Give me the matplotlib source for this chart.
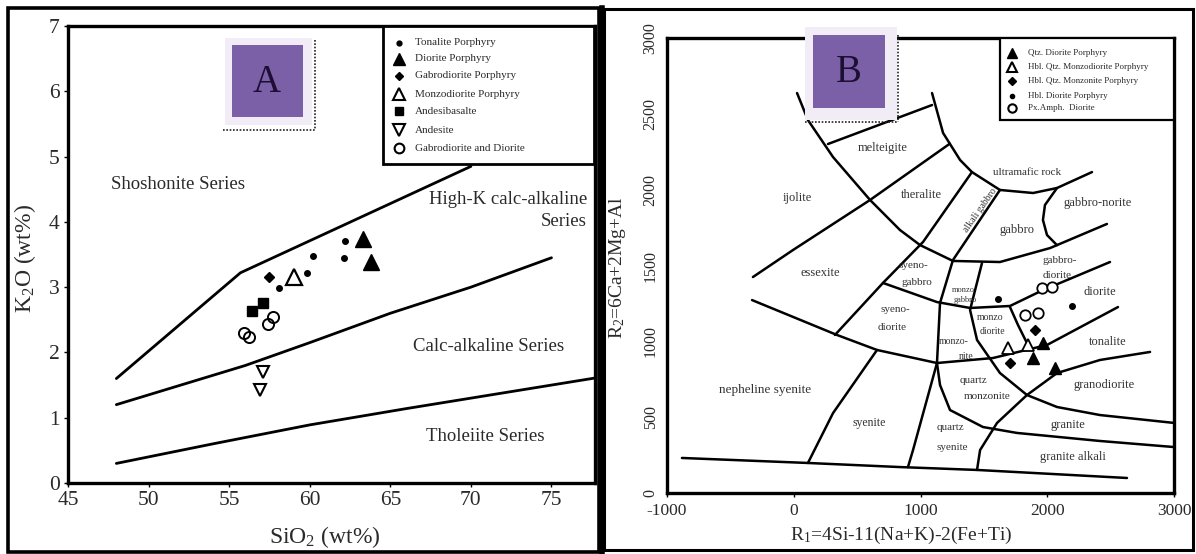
import matplotlib
matplotlib.use('Agg')
import matplotlib.pyplot as plt
from matplotlib.patches import Rectangle
from matplotlib.lines import Line2D

plt.rcParams['font.family'] = ['Liberation Serif', 'DejaVu Serif']
plt.rcParams['mathtext.fontset'] = 'custom'
plt.rcParams['mathtext.rm'] = 'Liberation Serif'
plt.rcParams['mathtext.it'] = 'Liberation Serif:italic'
plt.rcParams['axes.unicode_minus'] = False

W, H = 1196, 554
TXT = '#2a2a2a'

# ---------------- Panel A data (SiO2 vs K2O) ----------------
shosh_x = [48, 55.7, 70]
shosh_y = [1.6, 3.22, 4.85]
highk_x = [48, 52, 56, 60, 65, 70, 75]
highk_y = [1.2, 1.5, 1.8, 2.15, 2.6, 3.0, 3.45]
thol_x = [48, 54, 60, 66, 72, 78]
thol_y = [0.3, 0.6, 0.89, 1.14, 1.38, 1.62]

tonalite_x = [62.2, 62.1, 60.2, 59.8, 58.1]
tonalite_y = [3.71, 3.44, 3.47, 3.22, 2.99]
diorite_x = [63.3, 63.8]
diorite_y = [3.74, 3.39]
gabrodior_x = [57.5]
gabrodior_y = [3.16]
monzodior_x = [59.0]
monzodior_y = [3.16]
andesibas_x = [57.1, 56.4]
andesibas_y = [2.76, 2.64]
andesite_x = [57.1, 56.9]
andesite_y = [1.70, 1.43]
gabdior_x = [57.4, 57.7, 55.9, 56.2]
gabdior_y = [2.44, 2.55, 2.30, 2.24]

legendA = ['Tonalite Porphyry', 'Diorite Porphyry', 'Gabrodiorite Porphyry',
           'Monzodiorite Porphyry', 'Andesibasalte', 'Andesite',
           'Gabrodiorite and Diorite']

fieldsA = ['Shoshonite Series', 'High-K calc-alkaline', 'Series',
           'Calc-alkaline Series', 'Tholeiite Series']
fieldsA_x = [51.8, 77.2, 77.2, 71.1, 70.9]
fieldsA_y = [4.57, 4.34, 4.0, 2.09, 0.71]
fieldsA_ha = ['center', 'right', 'right', 'center', 'center']

# ---------------- Panel B data (R1 vs R2) ----------------
C1_x = [26, 112, 310, 602, 838, 996, 1256, 1627, 2022, 2471]
C1_y = [2637, 2459, 2215, 1932, 1734, 1635, 1530, 1523, 1615, 1774]
M_x = [270, 1091]
M_y = [2301, 2558]
C2_x = [1091, 1178, 1312, 1406, 1627, 1888, 2077, 2353]
C2_y = [2637, 2374, 2196, 2116, 1998, 1978, 2011, 2116]
L3_x = [-322, -6, 602, 1231]
L3_y = [1424, 1602, 1932, 2303]
L4_x = [-329, 341, 657, 1130, 1572, 1998, 2558]
L4_y = [1272, 1042, 943, 857, 890, 976, 1226]
GN_x = [2077, 1982, 1966, 1998, 2077]
GN_y = [2011, 1899, 1800, 1701, 1634]
B_x = [325, 704, 1020, 1406]
B_y = [1042, 1385, 1655, 2116]
A_x = [1627, 1256, 1154, 1130, 941, 901]
A_y = [1998, 1536, 1253, 857, 283, 171]
L9_x = [704, 1130, 1391, 1706, 1966, 2156, 2495]
L9_y = [1385, 1259, 1220, 1233, 1338, 1404, 1523]
L10_x = [1706, 1769, 1864]
L10_y = [1226, 1108, 948]
A3_x = [1485, 1391, 1446, 1627, 1840, 2077, 2416, 3000]
A3_y = [1516, 1207, 1009, 791, 646, 567, 514, 462]
L5_x = [1446, 1470, 1604, 1840, 2077, 2416, 2811]
L5_y = [152, 283, 462, 646, 791, 877, 930]
A4_x = [1130, 1154, 1233, 1493, 1761, 2416, 3000]
A4_y = [857, 712, 547, 435, 396, 343, 303]
SY_x = [657, 310, 112]
SY_y = [943, 527, 198]
BL_x = [-882, 112, 838, 1446, 2629]
BL_y = [231, 198, 171, 152, 99]
linesB = [(C1_x, C1_y), (M_x, M_y), (C2_x, C2_y), (L3_x, L3_y), (L4_x, L4_y),
          (GN_x, GN_y), (B_x, B_y), (A_x, A_y), (L9_x, L9_y), (L10_x, L10_y),
          (A3_x, A3_y), (L5_x, L5_y), (A4_x, A4_y), (SY_x, SY_y), (BL_x, BL_y)]

qtzdior_x = [1967, 1888, 2061]
qtzdior_y = [989, 890, 824]
hblmzd_x = [1690, 1848]
hblmzd_y = [956, 976]
hblmzn_x = [1904, 1706]
hblmzn_y = [1075, 857]
hbldior_x = [1612, 2195]
hbldior_y = [1279, 1233]
pxamph_x = [1959, 2038, 1825, 1927]
pxamph_y = [1352, 1358, 1174, 1187]

legendB = ['Qtz. Diorite Porphyry', 'Hbl. Qtz. Monzodiorite Porphyry',
           'Hbl. Qtz. Monzonite Porphyry', 'Hbl. Diorite Porphyry',
           'Px.Amph.  Diorite']

fieldsB = ['melteigite', 'ijolite', 'theralite', 'alkali gabbro', 'ultramafic rock',
           'gabbro-norite', 'gabbro', 'gabbro-', 'diorite', 'diorite', 'tonalite',
           'granodiorite', 'granite', 'granite alkali', 'quartz', 'syenite',
           'quartz', 'monzonite', 'monzo-', 'nite', 'monzo', 'diorite',
           'monzo', 'gabbro', 'syeno-', 'gabbro', 'syeno-', 'diorite',
           'essexite', 'nepheline syenite', 'syenite']
fieldsB_x = [704, 26, 1004, 1470, 1840, 2400, 1761, 2101, 2077, 2416, 2479,
             2448, 2164, 2203, 1233, 1249, 1414, 1525, 1264, 1359, 1548, 1564,
             1335, 1351, 941, 973, 799, 775, 207, -227, 594]
fieldsB_y = [2275, 1945, 1965, 1866, 2116, 1912, 1734, 1536, 1437, 1325, 996,
             712, 448, 237, 435, 303, 745, 633, 996, 897, 1160, 1068,
             1338, 1272, 1503, 1391, 1207, 1088, 1451, 679, 462]
fieldsB_size = [9, 9, 9, 7, 8, 9, 9, 8, 8, 9, 9, 9, 9, 9, 8, 8, 8, 8, 7, 7, 7, 7,
                6, 6, 8, 8, 8, 8, 9, 9.5, 8.5]
fieldsB_rot = [0, 0, 0, 55] + [0] * 27

fig = plt.figure(figsize=(W / 100, H / 100), dpi=100)


def fx(px):
    return px / W


def fy(py):
    return 1 - py / H


# ---------------- Panel A ----------------
axA = fig.add_axes([fx(68), fy(483), (595 - 68) / W, (483 - 26) / H])
axA.set_xlim(45, 77.7)
axA.set_ylim(0, 7)
for xs, ys in [(shosh_x, shosh_y), (highk_x, highk_y), (thol_x, thol_y)]:
    axA.plot(xs, ys, color='black', lw=2.0, solid_capstyle='round', zorder=2)

axA.plot(tonalite_x, tonalite_y, 'o', ms=4, color='black', zorder=4)
axA.plot(diorite_x, diorite_y, '^', ms=11, color='black', zorder=4)
axA.plot(gabrodior_x, gabrodior_y, 'D', ms=5.5, color='black', zorder=4)
axA.plot(monzodior_x, monzodior_y, '^', ms=11, mfc='white', mec='black', mew=1.6, zorder=4)
axA.plot(andesibas_x, andesibas_y, 's', ms=6.5, color='black', zorder=4)
axA.plot(andesite_x, andesite_y, 'v', ms=9, mfc='white', mec='black', mew=1.5, zorder=4)
axA.plot(gabdior_x, gabdior_y, 'o', ms=8, mfc='none', mec='black', mew=1.4, zorder=4)

for t, x, y, ha in zip(fieldsA, fieldsA_x, fieldsA_y, fieldsA_ha):
    axA.text(x, y, t, ha=ha, va='center', fontsize=13.5, color=TXT, zorder=3)

axA.set_xticks([45, 50, 55, 60, 65, 70, 75])
axA.set_yticks(range(0, 8))
axA.tick_params(labelsize=15.5, length=3, width=1, direction='out', colors='black',
                labelcolor=TXT, pad=3)
for s in axA.spines.values():
    s.set_linewidth(2.4)

# legend A
x0, x1, y0 = 0.598, 0.998, 0.698
axA.add_patch(Rectangle((x0, y0), x1 - x0, 1 - y0, transform=axA.transAxes,
                        facecolor='white', edgecolor='black', lw=2.0, zorder=5))
mk = [dict(marker='o', ms=3.5, mfc='black', mec='black'),
      dict(marker='^', ms=8, mfc='black', mec='black'),
      dict(marker='D', ms=4.5, mfc='black', mec='black'),
      dict(marker='^', ms=8, mfc='white', mec='black', mew=1.5),
      dict(marker='s', ms=5.5, mfc='black', mec='black'),
      dict(marker='v', ms=8, mfc='white', mec='black', mew=1.5),
      dict(marker='o', ms=7, mfc='white', mec='black', mew=1.5)]
rowsA = [0.963, 0.928, 0.891, 0.851, 0.814, 0.772, 0.733]
for lab, ry, m in zip(legendA, rowsA, mk):
    axA.plot([0.628], [ry], transform=axA.transAxes, ls='none', zorder=6, clip_on=False, **m)
    axA.text(0.658, ry, lab, transform=axA.transAxes, fontsize=8, color=TXT,
             va='center', ha='left', zorder=6)

# ---------------- Panel B ----------------
axB = fig.add_axes([fx(667), fy(493), (1174 - 667) / W, (493 - 38) / H])
axB.set_xlim(-1000, 3000)
axB.set_ylim(0, 3000)
for xs, ys in linesB:
    axB.plot(xs, ys, color='black', lw=1.8, solid_capstyle='round',
             solid_joinstyle='round', zorder=2)

axB.plot(qtzdior_x, qtzdior_y, '^', ms=8.5, color='black', zorder=4)
axB.plot(hblmzd_x, hblmzd_y, '^', ms=9, mfc='white', mec='black', mew=1.3, zorder=4)
axB.plot(hblmzn_x, hblmzn_y, 'D', ms=5, color='black', zorder=4)
axB.plot(hbldior_x, hbldior_y, 'o', ms=4, color='black', zorder=4)
axB.plot(pxamph_x, pxamph_y, 'o', ms=7.5, mfc='white', mec='black', mew=1.3, zorder=4)

for t, x, y, s, r in zip(fieldsB, fieldsB_x, fieldsB_y, fieldsB_size, fieldsB_rot):
    axB.text(x, y, t, ha='center', va='center', fontsize=s, rotation=r,
             color='#333333', zorder=3)

axB.set_xticks([-1000, 0, 1000, 2000, 3000])
axB.set_yticks([0, 500, 1000, 1500, 2000, 2500, 3000])
axB.tick_params(axis='x', labelsize=12.5, length=3, width=1, labelcolor=TXT, pad=4)
axB.tick_params(axis='y', labelsize=11.5, length=0, labelcolor=TXT, pad=6)
for lab in axB.get_yticklabels():
    lab.set_rotation(90)
    lab.set_va('center')
for s in axB.spines.values():
    s.set_linewidth(2.4)

# legend B
x0, y0 = 0.657, 0.820
axB.add_patch(Rectangle((x0, y0), 1.0 - x0, 1 - y0, transform=axB.transAxes,
                        facecolor='white', edgecolor='black', lw=1.6, zorder=5))
mkB = [dict(marker='^', ms=7, mfc='black', mec='black'),
       dict(marker='^', ms=7, mfc='white', mec='black', mew=1.5),
       dict(marker='D', ms=4, mfc='black', mec='black'),
       dict(marker='o', ms=3, mfc='black', mec='black'),
       dict(marker='o', ms=6, mfc='white', mec='black', mew=1.5)]
rowsB = [0.967, 0.936, 0.905, 0.873, 0.846]
for lab, ry, m in zip(legendB, rowsB, mkB):
    axB.plot([0.680], [ry], transform=axB.transAxes, ls='none', zorder=6, clip_on=False, **m)
    axB.text(0.712, ry, lab, transform=axB.transAxes, fontsize=6.5, color=TXT,
             va='center', ha='left', zorder=6)

# ---------------- axis labels ----------------
fig.text(fx(325), fy(537), 'SiO$_2$ (wt%)', fontsize=17, ha='center', va='center', color=TXT)
fig.text(fx(25), fy(258), 'K$_2$O (wt%)', fontsize=17, ha='center', va='center',
         rotation=90, color=TXT)
fig.text(fx(901), fy(535), 'R$_1$=4Si-11(Na+K)-2(Fe+Ti)', fontsize=14, ha='center',
         va='center', color=TXT)
fig.text(fx(617), fy(268), 'R$_2$=6Ca+2Mg+Al', fontsize=14, ha='center', va='center',
         rotation=90, color=TXT)

# ---------------- letter boxes ----------------
def letter_box(halo, inner, dot_x, dot_y0, dot_y1, dot_bx0, letter, cx, cy):
    hx0, hy0, hx1, hy1 = halo
    fig.patches.append(Rectangle((fx(hx0), fy(hy1)), (hx1 - hx0) / W, (hy1 - hy0) / H,
                                 transform=fig.transFigure, facecolor='#f1ecf6',
                                 edgecolor='none', zorder=10))
    ix0, iy0, ix1, iy1 = inner
    fig.patches.append(Rectangle((fx(ix0), fy(iy1)), (ix1 - ix0) / W, (iy1 - iy0) / H,
                                 transform=fig.transFigure, facecolor='#7b60a8',
                                 edgecolor='none', zorder=11))
    fig.lines.append(Line2D([fx(dot_x), fx(dot_x)], [fy(dot_y0), fy(dot_y1)],
                            transform=fig.transFigure, color='#222222', lw=1.2,
                            ls=(0, (1, 1)), zorder=12))
    fig.lines.append(Line2D([fx(dot_bx0), fx(dot_x)], [fy(dot_y1), fy(dot_y1)],
                            transform=fig.transFigure, color='#222222', lw=1.2,
                            ls=(0, (1, 1)), zorder=12))
    fig.text(fx(cx), fy(cy), letter, fontsize=28, ha='center', va='center',
             color='#1c0f33', zorder=13)


letter_box((225, 38, 312, 125), (232, 45, 303, 117), 315, 40, 130, 223, 'A', 267, 83)
letter_box((805, 27, 897, 120), (813, 35, 885, 108), 898, 35, 122, 805, 'B', 849, 73)

# ---------------- outer frames ----------------
def frame(x0, y0, x1, y1, lw):
    fig.patches.append(Rectangle((fx(x0), fy(y1)), (x1 - x0) / W, (y1 - y0) / H,
                                 transform=fig.transFigure, facecolor='none',
                                 edgecolor='black', lw=lw, zorder=20))


frame(8, 8, 599, 552, 2.6)
frame(604, 9, 1193, 550, 2.2)
fig.lines.append(Line2D([fx(602), fx(602)], [fy(8), fy(552)], transform=fig.transFigure,
                        color='black', lw=4, zorder=21))

fig.savefig('out.png', dpi=100)
